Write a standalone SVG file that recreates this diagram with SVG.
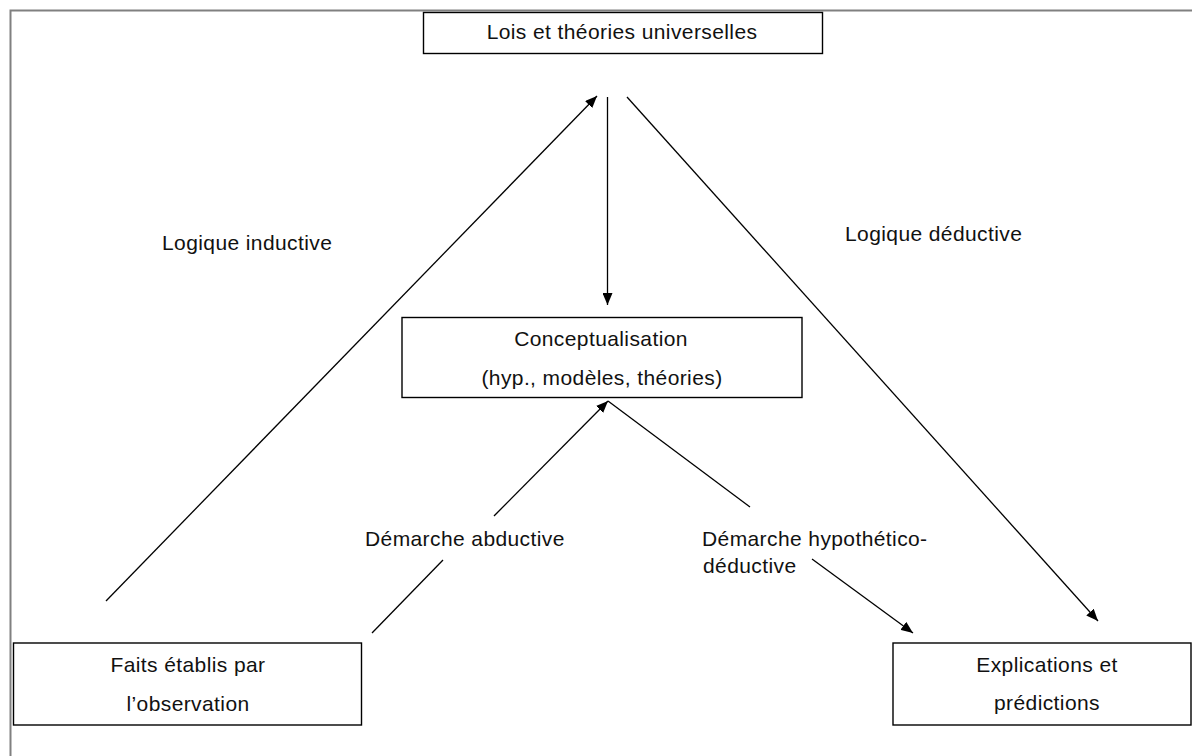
<svg xmlns="http://www.w3.org/2000/svg" width="1192" height="756" viewBox="0 0 1192 756">
  <style>
    .frame { stroke: #808080; stroke-width: 2; fill: none; }
    .box { fill: #ffffff; stroke: #000000; stroke-width: 1.4; }
    .lbl { font-family: "Liberation Sans", Arial, sans-serif; font-size: 21px; fill: #111111; letter-spacing: 0.4px; }
    .mid { text-anchor: middle; }
    .conn { stroke: #000000; stroke-width: 1.3; fill: none; }
  </style>
  <defs>
    <marker id="arrow" viewBox="0 0 12 10" refX="12" refY="5" markerWidth="12" markerHeight="10" markerUnits="userSpaceOnUse" orient="auto">
      <path d="M0,0 L12,5 L0,10 Z" fill="#000000"/>
    </marker>
  </defs>
  <rect width="1192" height="756" fill="#ffffff"/>
  <path class="frame" d="M10.5,756 V10.5 H1192"/>

  <g id="connectors">
    <line class="conn" x1="106" y1="601" x2="597" y2="96" marker-end="url(#arrow)"/>
    <line class="conn" x1="607.5" y1="97" x2="607.5" y2="305" marker-end="url(#arrow)"/>
    <line class="conn" x1="627" y1="97" x2="1098" y2="621" marker-end="url(#arrow)"/>
    <line class="conn" x1="494" y1="516" x2="608" y2="401" marker-end="url(#arrow)"/>
    <line class="conn" x1="372" y1="633" x2="443" y2="560"/>
    <line class="conn" x1="608" y1="401" x2="750" y2="507"/>
    <line class="conn" x1="812" y1="559" x2="913" y2="633" marker-end="url(#arrow)"/>
  </g>

  <g id="lois">
    <rect class="box" x="423.5" y="12.5" width="399" height="41"/>
    <text class="lbl mid" x="622" y="39">Lois et théories universelles</text>
  </g>

  <g id="conceptualisation">
    <rect class="box" x="402" y="317.5" width="400" height="80"/>
    <text class="lbl mid" x="601" y="346">Conceptualisation</text>
    <text class="lbl mid" x="602" y="385">(hyp., modèles, théories)</text>
  </g>

  <g id="faits">
    <rect class="box" x="13.5" y="643" width="348" height="82"/>
    <text class="lbl mid" x="188" y="672">Faits établis par</text>
    <text class="lbl mid" x="188" y="711">l’observation</text>
  </g>

  <g id="explications">
    <rect class="box" x="893" y="643" width="298" height="82"/>
    <text class="lbl mid" x="1047" y="672">Explications et</text>
    <text class="lbl mid" x="1047" y="710">prédictions</text>
  </g>

  <g id="labels">
    <text class="lbl" x="162" y="250">Logique inductive</text>
    <text class="lbl" x="845" y="241">Logique déductive</text>
    <text class="lbl" x="365" y="546">Démarche abductive</text>
    <text class="lbl" x="702" y="546">Démarche hypothético-</text>
    <text class="lbl" x="703" y="573">déductive</text>
  </g>
</svg>
